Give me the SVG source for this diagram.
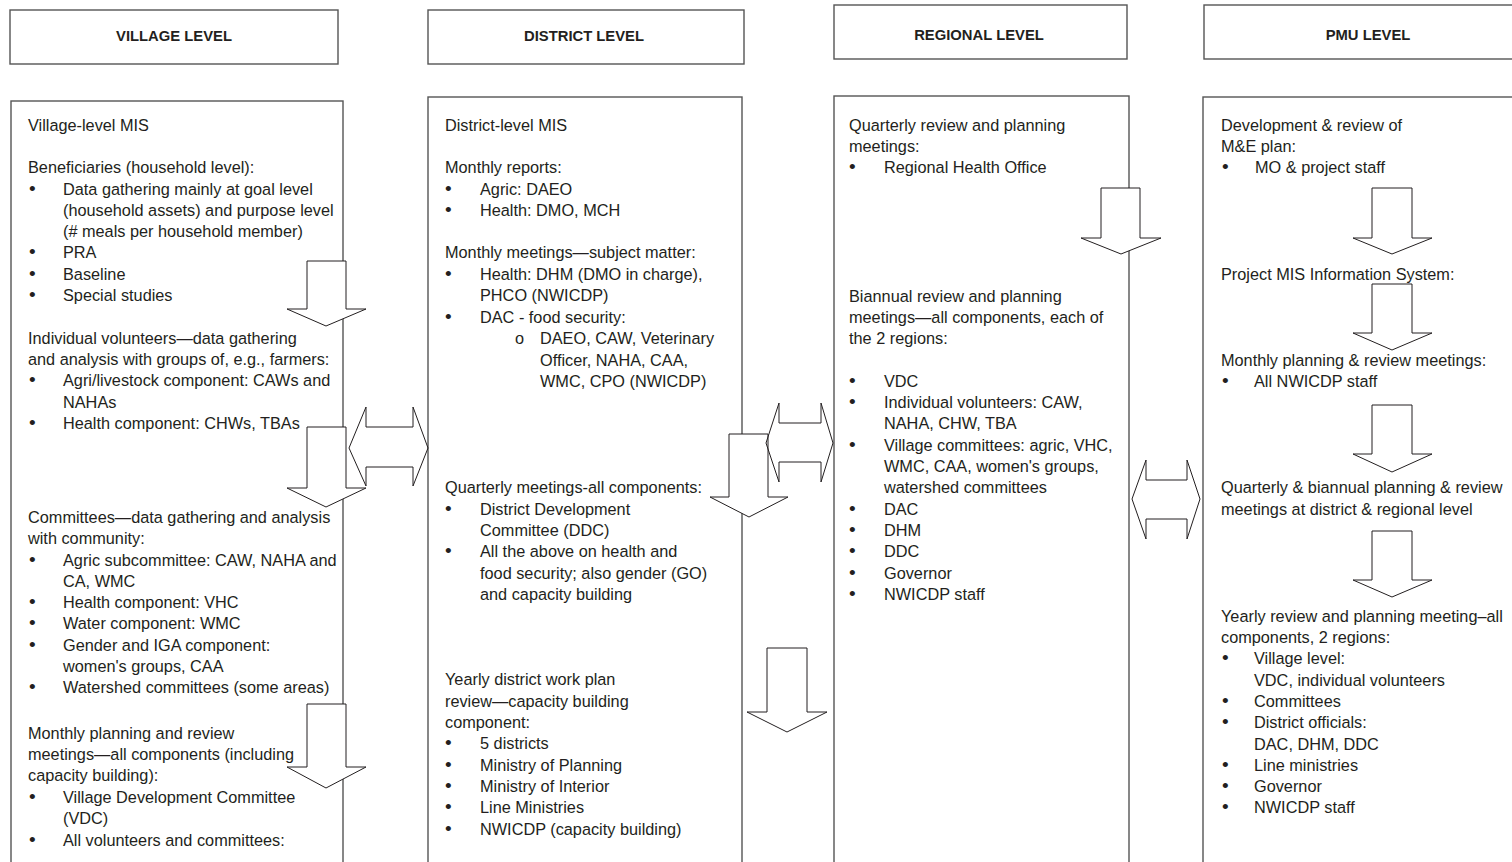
<svg xmlns="http://www.w3.org/2000/svg" width="1512" height="862" viewBox="0 0 1512 862">
<style>
.box{fill:#fff;stroke:#555;stroke-width:1.4}
.arr{fill:#fff;stroke:#231f20;stroke-width:1}
.darr{fill:none;stroke:#231f20;stroke-width:1}
.hd{font-family:"Liberation Sans",Arial,sans-serif;font-weight:bold;font-size:14.8px;text-anchor:middle;fill:#231f20}
.t{font-family:"Liberation Sans",Arial,sans-serif;font-size:16.3px;fill:#231f20}
.b{font-size:19px}
</style>
<rect width="1512" height="862" fill="#fff"/>
<g id="hdr-village"><rect class="box" x="10" y="10" width="328" height="54"/><text class="hd" x="174" y="41">VILLAGE LEVEL</text></g>
<g id="hdr-district"><rect class="box" x="428" y="10" width="316" height="54"/><text class="hd" x="584" y="41">DISTRICT LEVEL</text></g>
<g id="hdr-regional"><rect class="box" x="834" y="5" width="293" height="54"/><text class="hd" x="979" y="40">REGIONAL LEVEL</text></g>
<g id="hdr-pmu"><rect class="box" x="1204" y="5" width="328" height="54"/><text class="hd" x="1368" y="40">PMU LEVEL</text></g>

<g id="village">
<rect class="box" x="11" y="101" width="332" height="790"/>
<g class="t">
<text x="28" y="131">Village-level MIS</text>
<text x="28" y="173">Beneficiaries (household level):</text>
<text class="b" x="29" y="195">•</text><text x="63" y="195">Data gathering mainly at goal level</text>
<text x="63" y="216">(household assets) and purpose level</text>
<text x="63" y="237">(# meals per household member)</text>
<text class="b" x="29" y="258">•</text><text x="63" y="258">PRA</text>
<text class="b" x="29" y="280">•</text><text x="63" y="280">Baseline</text>
<text class="b" x="29" y="301">•</text><text x="63" y="301">Special studies</text>
<text x="28" y="344">Individual volunteers—data gathering</text>
<text x="28" y="365">and analysis with groups of, e.g., farmers:</text>
<text class="b" x="29" y="386">•</text><text x="63" y="386">Agri/livestock component: CAWs and</text>
<text x="63" y="408">NAHAs</text>
<text class="b" x="29" y="429">•</text><text x="63" y="429">Health component: CHWs, TBAs</text>
<text x="28" y="523">Committees—data gathering and analysis</text>
<text x="28" y="544">with community:</text>
<text class="b" x="29" y="566">•</text><text x="63" y="566">Agric subcommittee: CAW, NAHA and</text>
<text x="63" y="587">CA, WMC</text>
<text class="b" x="29" y="608">•</text><text x="63" y="608">Health component: VHC</text>
<text class="b" x="29" y="629">•</text><text x="63" y="629">Water component: WMC</text>
<text class="b" x="29" y="651">•</text><text x="63" y="651">Gender and IGA component:</text>
<text x="63" y="672">women's groups, CAA</text>
<text class="b" x="29" y="693">•</text><text x="63" y="693">Watershed committees (some areas)</text>
<text x="28" y="739">Monthly planning and review</text>
<text x="28" y="760">meetings—all components (including</text>
<text x="28" y="781">capacity building):</text>
<text class="b" x="29" y="803">•</text><text x="63" y="803">Village Development Committee</text>
<text x="63" y="824">(VDC)</text>
<text class="b" x="29" y="846">•</text><text x="63" y="846">All volunteers and committees:</text>
</g>
</g>

<g id="district">
<rect class="box" x="428" y="97" width="314" height="794"/>
<g class="t">
<text x="445" y="131">District-level MIS</text>
<text x="445" y="173">Monthly reports:</text>
<text class="b" x="445" y="195">•</text><text x="480" y="195">Agric: DAEO</text>
<text class="b" x="445" y="216">•</text><text x="480" y="216">Health: DMO, MCH</text>
<text x="445" y="258">Monthly meetings—subject matter:</text>
<text class="b" x="445" y="280">•</text><text x="480" y="280">Health: DHM (DMO in charge),</text>
<text x="480" y="301">PHCO (NWICDP)</text>
<text class="b" x="445" y="323">•</text><text x="480" y="323">DAC - food security:</text>
<text x="515" y="344">o</text><text x="540" y="344">DAEO, CAW, Veterinary</text>
<text x="540" y="366">Officer, NAHA, CAA,</text>
<text x="540" y="387">WMC, CPO (NWICDP)</text>
<text x="445" y="493">Quarterly meetings-all components:</text>
<text class="b" x="445" y="515">•</text><text x="480" y="515">District Development</text>
<text x="480" y="536">Committee (DDC)</text>
<text class="b" x="445" y="557">•</text><text x="480" y="557">All the above on health and</text>
<text x="480" y="579">food security; also gender (GO)</text>
<text x="480" y="600">and capacity building</text>
<text x="445" y="685">Yearly district work plan</text>
<text x="445" y="707">review—capacity building</text>
<text x="445" y="728">component:</text>
<text class="b" x="445" y="749">•</text><text x="480" y="749">5 districts</text>
<text class="b" x="445" y="771">•</text><text x="480" y="771">Ministry of Planning</text>
<text class="b" x="445" y="792">•</text><text x="480" y="792">Ministry of Interior</text>
<text class="b" x="445" y="813">•</text><text x="480" y="813">Line Ministries</text>
<text class="b" x="445" y="835">•</text><text x="480" y="835">NWICDP (capacity building)</text>
</g>
</g>

<g id="regional">
<rect class="box" x="834" y="96" width="295" height="795"/>
<g class="t">
<text x="849" y="131">Quarterly review and planning</text>
<text x="849" y="152">meetings:</text>
<text class="b" x="849" y="173">•</text><text x="884" y="173">Regional Health Office</text>
<text x="849" y="302">Biannual review and planning</text>
<text x="849" y="323">meetings—all components, each of</text>
<text x="849" y="344">the 2 regions:</text>
<text class="b" x="849" y="387">•</text><text x="884" y="387">VDC</text>
<text class="b" x="849" y="408">•</text><text x="884" y="408">Individual volunteers: CAW,</text>
<text x="884" y="429">NAHA, CHW, TBA</text>
<text class="b" x="849" y="451">•</text><text x="884" y="451">Village committees: agric, VHC,</text>
<text x="884" y="472">WMC, CAA, women's groups,</text>
<text x="884" y="493">watershed committees</text>
<text class="b" x="849" y="515">•</text><text x="884" y="515">DAC</text>
<text class="b" x="849" y="536">•</text><text x="884" y="536">DHM</text>
<text class="b" x="849" y="557">•</text><text x="884" y="557">DDC</text>
<text class="b" x="849" y="579">•</text><text x="884" y="579">Governor</text>
<text class="b" x="849" y="600">•</text><text x="884" y="600">NWICDP staff</text>
</g>
</g>

<g id="pmu">
<rect class="box" x="1203" y="97" width="330" height="794"/>
<g class="t">
<text x="1221" y="131">Development &amp; review of</text>
<text x="1221" y="152">M&amp;E plan:</text>
<text class="b" x="1222" y="173">•</text><text x="1255" y="173">MO &amp; project staff</text>
<text x="1221" y="280">Project MIS Information System:</text>
<text x="1221" y="366">Monthly planning &amp; review meetings:</text>
<text class="b" x="1222" y="387">•</text><text x="1254" y="387">All NWICDP staff</text>
<text x="1221" y="493">Quarterly &amp; biannual planning &amp; review</text>
<text x="1221" y="515">meetings at district &amp; regional level</text>
<text x="1221" y="622">Yearly review and planning meeting–all</text>
<text x="1221" y="643">components, 2 regions:</text>
<text class="b" x="1222" y="664">•</text><text x="1254" y="664">Village level:</text>
<text x="1254" y="686">VDC, individual volunteers</text>
<text class="b" x="1222" y="707">•</text><text x="1254" y="707">Committees</text>
<text class="b" x="1222" y="728">•</text><text x="1254" y="728">District officials:</text>
<text x="1254" y="750">DAC, DHM, DDC</text>
<text class="b" x="1222" y="771">•</text><text x="1254" y="771">Line ministries</text>
<text class="b" x="1222" y="792">•</text><text x="1254" y="792">Governor</text>
<text class="b" x="1222" y="813">•</text><text x="1254" y="813">NWICDP staff</text>
</g>
</g>

<g id="connectors">
<polygon class="arr" points="307,261 346,261 346,309 366,309 326,326 287,309 307,309"/>
<polygon class="arr" points="307,427 346,427 346,488 366,488 326,507 287,488 307,488"/>
<polygon class="arr" points="307,704 346,704 346,767 366,767 326,788 287,767 307,767"/>
<polygon class="arr" points="729,434 768,434 768,497 788,497 749,517 710,497 729,497"/>
<polygon class="arr" points="767,648 807,648 807,712 827,712 787,732 747,712 767,712"/>
<polygon class="arr" points="1101,188 1140,188 1140,238 1161,238 1121,254 1081,238 1101,238"/>
<polygon class="arr" points="1372,188 1412,188 1412,238 1432,238 1392,254 1353,238 1372,238"/>
<polygon class="arr" points="1372,284 1412,284 1412,333 1432,333 1392,350 1353,333 1372,333"/>
<polygon class="arr" points="1372,405 1412,405 1412,454 1432,454 1392,472 1353,454 1372,454"/>
<polygon class="arr" points="1372,531 1412,531 1412,580 1432,580 1392,597 1353,580 1372,580"/>
<polygon class="darr" points="349,448 366,407 366,427 413,427 413,407 428,448 413,486 413,467 366,467 366,486"/>
<polygon class="darr" points="766,443 779,403 779,423 821,423 821,403 833,443 821,482 821,462 779,462 779,482"/>
<polygon class="darr" points="1132,499 1146,460 1146,480 1187,480 1187,460 1200,499 1187,539 1187,519 1146,519 1146,539"/>
</g>
</svg>
